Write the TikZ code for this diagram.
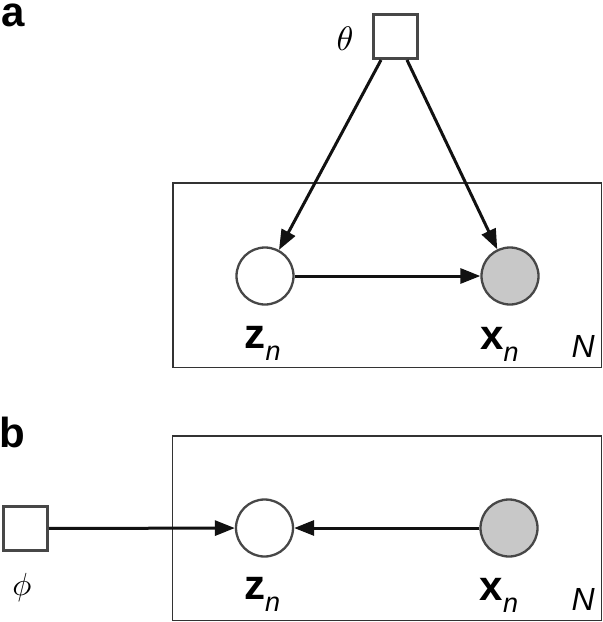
\documentclass[tikz,border=0pt]{standalone}
\usepackage{fontspec}
\setsansfont{Liberation Sans}
\usetikzlibrary{arrows.meta}
\definecolor{nodegray}{HTML}{474747}
\definecolor{plategray}{HTML}{333333}
\definecolor{obsfill}{HTML}{C8C8C8}
\definecolor{arrcol}{HTML}{111111}
\begin{document}
\begin{tikzpicture}[x=1pt,y=-1pt,
  plate/.style={draw=plategray,line width=1.4pt,inner sep=0pt,fill=none},
  latent/.style={circle,draw=nodegray,line width=2.3pt,minimum size=57pt,inner sep=0pt,fill=white},
  obs/.style={latent,fill=obsfill},
  param/.style={rectangle,draw=nodegray,line width=3pt,minimum size=44pt,inner sep=0pt,fill=white},
  arr/.style={draw=arrcol,line width=3pt,-{Triangle[length=20pt,width=15pt]}},
  varlabel/.style={anchor=base west,inner sep=0pt,font=\fontsize{42}{42}\sffamily\bfseries},
  platelabel/.style={anchor=base east,inner sep=0pt,font=\fontsize{32}{32}\sffamily\itshape},
  panellabel/.style={anchor=base west,inner sep=0pt,font=\fontsize{42}{42}\sffamily\bfseries},
  greek/.style={inner sep=0pt}
]
\useasboundingbox (0,0) rectangle (603,622);

% ---------- panel a ----------
\node[panellabel] (la) at (1,26) {a};
\node[plate,minimum width=428.5pt,minimum height=184.5pt] (pa) at (387.25,275.25) {};
\node[param] (th) at (395,36.5) {};
\node[greek] (tht) at (345,38.5) {\scalebox{3.4}{$\theta$}};
\node[latent] (za) at (265,276) {};
\node[obs] (xa) at (510,276) {};
\node[varlabel] (zal) at (244.5,348) {z\raisebox{-12pt}{\fontsize{27}{27}\selectfont\mdseries\itshape n}};
\node[varlabel] (xal) at (480,349) {x\raisebox{-12pt}{\fontsize{27}{27}\selectfont\mdseries\itshape n}};
\node[platelabel] (na) at (595,357) {N};
\draw[arr] ([xshift=-14pt]th.south) -- (za);
\draw[arr] ([xshift=12pt]th.south) -- (xa);
\draw[arr] (za) -- (xa);

% ---------- panel b ----------
\node[panellabel] (lb) at (-1,447) {b};
\node[plate,minimum width=429pt,minimum height=184.5pt] (pb) at (387,528.25) {};
\node[param] (ph) at (25.5,528.5) {};
\node[greek] (pht) at (22,587) {\scalebox{3.2}{$\phi$}};
\node[latent] (zb) at (264.5,528) {};
\node[obs] (xb) at (509,528) {};
\node[varlabel] (zbl) at (244,599) {z\raisebox{-12pt}{\fontsize{27}{27}\selectfont\mdseries\itshape n}};
\node[varlabel] (xbl) at (479.5,600) {x\raisebox{-12pt}{\fontsize{27}{27}\selectfont\mdseries\itshape n}};
\node[platelabel] (nb) at (595,610) {N};
\draw[arr] (ph) -- (zb);
\draw[arr] (xb) -- (zb);
\end{tikzpicture}
\end{document}
